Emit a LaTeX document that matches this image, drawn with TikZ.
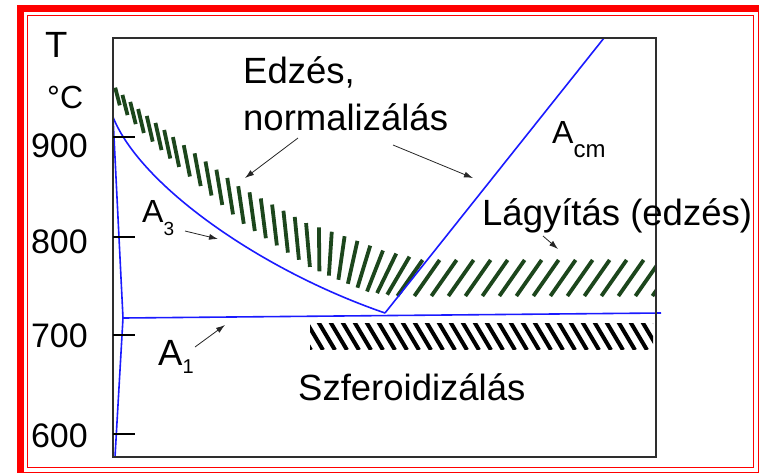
\documentclass[tikz,border=0pt]{standalone}
\usepackage{fontspec}
\setmainfont{Liberation Sans}
\usepackage{xcolor}
\definecolor{framered}{HTML}{FF0000}
\definecolor{phaseblue}{HTML}{1A1AFF}
\definecolor{hatchgreen}{HTML}{1C461C}
\definecolor{boxgray}{HTML}{2E2E2E}
\usetikzlibrary{arrows.meta}
\tikzset{
  >={Latex[length=9pt,width=6pt]},
  lbl/.style    ={font=\fontsize{36.5}{40}\selectfont,inner sep=0pt,anchor=base west},
  lblsm/.style  ={font=\fontsize{32}{36}\selectfont,inner sep=0pt,anchor=base west},
  axnum/.style  ={font=\fontsize{34}{38}\selectfont,inner sep=0pt,anchor=base east},
  ptr/.style    ={->,draw=black!85,line width=0.8pt},
  phase/.style  ={draw=phaseblue,line width=1.6pt},
  plotbox/.style={draw=boxgray,line width=1.8pt},
  tick/.style   ={draw=black,line width=1.4pt},
  redthin/.style={draw=framered,line width=1.5pt},
  redthick/.style={draw=framered,line width=7pt},
  bandstroke/.style={draw=hatchgreen,line width=3.8pt},
  sferostroke/.style={draw=black,line width=4pt},
}

\begin{document}
\begin{tikzpicture}[x=1pt,y=-1pt]
\useasboundingbox (0,0) rectangle (761,475);
% ---- red frame
\draw[redthin] (27.5,15.5) rectangle (753.5,467.5);
\draw[redthin] (20,8.5) -- (758.5,8.5) -- (758.5,472.5) -- (20,472.5);
\draw[redthick] (20,5) -- (20,473);
\draw[redthick] (17,8.5) -- (758.5,8.5);

% ---- hatched bands
\begin{scope}
\clip (113,38) rectangle (656,457);
% curved band: strokes along the centre line, turning from steep to slanted
\foreach \xa/\ya/\xb/\yb/\n in {110/88/125/105/2, 125/105/141/121/2, 141/121/176/152/4,
    176/152/241/205/6, 241/205/308/245/6, 308/245/375/271/6, 375/271/410/278/3} {
  \foreach \k in {1,...,\n} {
    \pgfmathsetmacro\px{\xa+(\xb-\xa)*(\k-1)/\n}
    \pgfmathsetmacro\py{\ya+(\yb-\ya)*(\k-1)/\n}
    \pgfmathsetmacro\bandang{\px<=308 ? 105-10*(\px-110)/198 : 95-40*(\px-308)/102}
    \pgfmathsetmacro\bandlen{min(22,6+16*sqrt(max(\px-110,0)/198))}
    \pgfmathsetmacro\bandtwo{2*\bandlen}
    \draw[bandstroke] (\px,\py) ++(\bandang:\bandlen pt) -- ++(\bandang+180:\bandtwo pt);
  }
}
% flat band
\foreach \px in {410,427,...,682}
  \draw[bandstroke] (\px,278) ++(55:22pt) -- ++(235:44pt);
\end{scope}
\begin{scope}
\clip (310,323) rectangle (653,349);
\foreach \x in {280,292,...,664} \draw[sferostroke] (\x,318) -- ++(19,32);
\end{scope}

% ---- phase lines
\coordinate (top) at (113,117);
\coordinate (eut) at (385,313);
\coordinate (a1l) at (123,318);
\draw[phase] (top) -- (a1l) -- (115,457);
\draw[phase] (top) .. controls (140,185) and (260,270) .. (eut);
\draw[phase] (eut) -- (604,38);
\draw[phase] (a1l) -- (661,313);

% ---- axis
\draw[plotbox] (113,38) rectangle (656,457);
\foreach \y in {137,237,335,434} \draw[tick] (113,\y) -- (135,\y);
\node[lbl] (tlbl) at (45,57) {T};
\node[lblsm] (unit) at (47,108) {°C};
\node[axnum] (t900) at (88,157) {900};
\node[axnum] (t800) at (88,253) {800};
\node[axnum] (t700) at (88,347) {700};
\node[axnum] (t600) at (88,447) {600};

% ---- labels
\node[lbl] (edz1) at (243,83) {Edzés,};
\node[lbl] (edz2) at (243,130) {normalizálás};
\node[lblsm] (a3) at (142,222) {A\raisebox{-13pt}{\fontsize{19}{19}\selectfont 3}};
\node[lblsm] (acm) at (552,143) {A\raisebox{-14pt}{\fontsize{24}{24}\selectfont cm}};
\node[lbl] (lagy) at (482,225) {Lágyítás (edzés)};
\node[lbl] (a1) at (158,365) {A\raisebox{-8pt}{\fontsize{20}{20}\selectfont 1}};
\node[lbl] (szfer) at (298,400) {Szferoidizálás};

% ---- pointers
\coordinate (edzl0) at (298,138); \coordinate (edzl1) at (245,178);
\coordinate (edzr0) at (393,145); \coordinate (edzr1) at (473,178);
\coordinate (a30) at (185,231);   \coordinate (a31) at (218,239);
\coordinate (lagy0) at (543,236); \coordinate (lagy1) at (558,249);
\coordinate (a10) at (195,347);   \coordinate (a11) at (225,325);
\foreach \a/\b in {edzl0/edzl1, edzr0/edzr1, a30/a31, lagy0/lagy1, a10/a11} \draw[ptr] (\a) -- (\b);
\end{tikzpicture}
\end{document}
